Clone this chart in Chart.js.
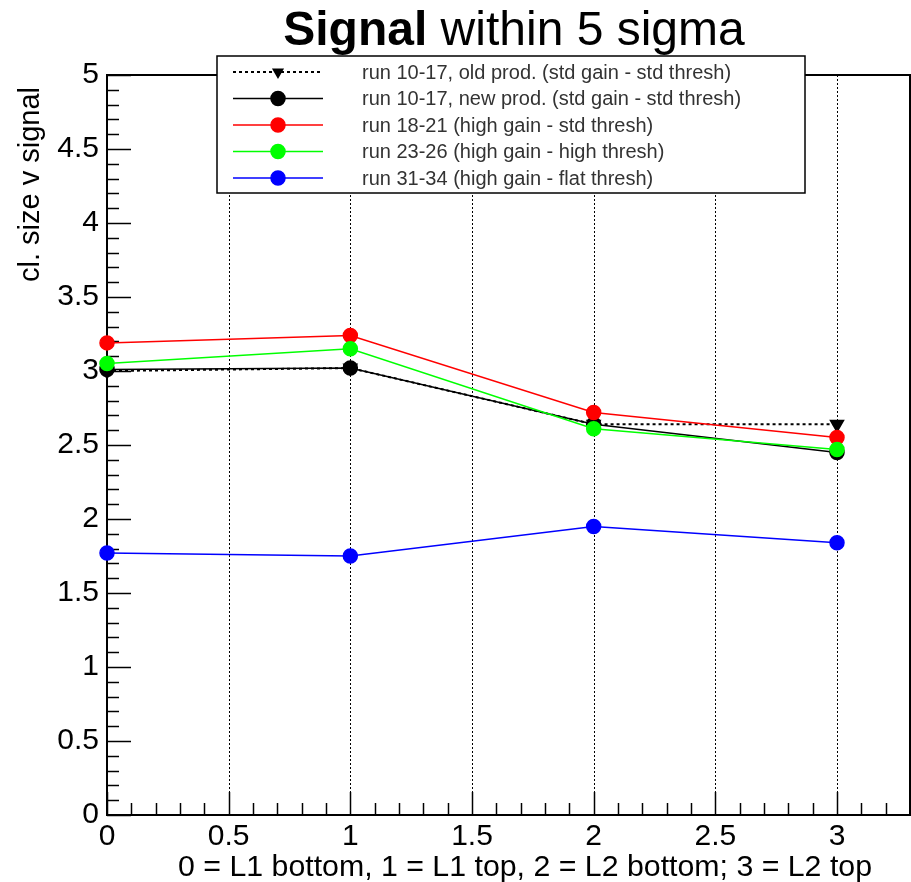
<!DOCTYPE html>
<html>
<head>
<meta charset="utf-8">
<script src="https://cdn.jsdelivr.net/npm/chart.js@4.4.1/dist/chart.umd.min.js"></script>
<style>
  html, body { margin: 0; padding: 0; background: #fff; }
  #wrap { width: 911px; height: 882px; }
</style>
</head>
<body>
<div id="wrap"><canvas id="chart" width="911" height="882"></canvas></div>
<script>
// layer position: 0 = L1 bottom, 1 = L1 top, 2 = L2 bottom, 3 = L2 top
const layers = [0, 1, 2, 3];
const oldProd = [3.00, 3.02, 2.64, 2.64];
const newProd = [3.01, 3.02, 2.64, 2.45];
const run1821 = [3.19, 3.24, 2.72, 2.55];
const run2326 = [3.05, 3.15, 2.61, 2.47];
const run3134 = [1.77, 1.75, 1.95, 1.84];

const seriesLabels = [
    'run 10-17, old prod. (std gain - std thresh)',
    'run 10-17, new prod. (std gain - std thresh)',
    'run 18-21 (high gain - std thresh)',
    'run 23-26 (high gain - high thresh)',
    'run 31-34 (high gain - flat thresh)'
];
const xTicks = [0, 0.5, 1, 1.5, 2, 2.5, 3];
const yTicks = [0, 0.5, 1, 1.5, 2, 2.5, 3, 3.5, 4, 4.5, 5];

const FONT = '"Liberation Sans", Arial, Helvetica, sans-serif';

const toPoints = vals => vals.map((v, i) => ({ x: layers[i], y: v }));

const makeSet = (label, vals, color, extra) => Object.assign({
    label: label,
    data: toPoints(vals),
    borderColor: color,
    backgroundColor: color,
    pointBackgroundColor: color,
    pointBorderColor: color,
    borderWidth: 1.5,
    pointRadius: 7,
    pointStyle: 'circle',
    tension: 0,
    clip: false
}, extra);

// ROOT style frame, ticks, grid, titles and legend
const rootStyle = {
    id: 'rootStyle',
    beforeDatasetsDraw(chart) {
        const ctx = chart.ctx;
        const a = chart.chartArea;
        const xs = chart.scales.x, ys = chart.scales.y;
        ctx.save();
        // dotted vertical grid
        ctx.strokeStyle = '#000';
        ctx.lineWidth = 1;
        ctx.setLineDash([2, 2]);
        xTicks.forEach(v => {
            const px = Math.round(xs.getPixelForValue(v)) + 0.5;
            ctx.beginPath();
            ctx.moveTo(px, a.top);
            ctx.lineTo(px, a.bottom);
            ctx.stroke();
        });
        ctx.setLineDash([]);
        // ticks
        ctx.lineWidth = 1.5;
        for (let i = 0; i <= 33; i++) {
            const v = i / 10;
            const px = Math.round(xs.getPixelForValue(v)) + 0.5;
            const len = (i % 5 === 0) ? 23 : 12;
            ctx.beginPath();
            ctx.moveTo(px, a.bottom);
            ctx.lineTo(px, a.bottom - len);
            ctx.stroke();
        }
        for (let i = 0; i <= 50; i++) {
            const v = i / 10;
            const py = Math.round(ys.getPixelForValue(v)) + 0.5;
            const len = (i % 5 === 0) ? 24 : 12;
            ctx.beginPath();
            ctx.moveTo(a.left, py);
            ctx.lineTo(a.left + len, py);
            ctx.stroke();
        }
        // frame
        ctx.lineWidth = 2;
        ctx.strokeRect(a.left, a.top, a.right - a.left, a.bottom - a.top);
        ctx.restore();
    },
    afterDraw(chart) {
        const ctx = chart.ctx;
        ctx.save();
        ctx.fillStyle = '#000';
        // title: bold "Signal" + regular rest
        ctx.textBaseline = 'alphabetic';
        ctx.font = 'bold 48px ' + FONT;
        const w1 = ctx.measureText('Signal').width;
        ctx.font = '48px ' + FONT;
        const w2 = ctx.measureText(' within 5 sigma').width;
        const tx = 514 - (w1 + w2) / 2;
        ctx.font = 'bold 48px ' + FONT;
        ctx.fillText('Signal', tx, 45);
        ctx.font = '48px ' + FONT;
        ctx.fillText(' within 5 sigma', tx + w1, 45);

        // axis titles
        ctx.font = '30.3px ' + FONT;
        ctx.textAlign = 'right';
        ctx.fillText('0 = L1 bottom, 1 = L1 top, 2 = L2 bottom; 3 = L2 top', 872, 876);
        ctx.font = '29px ' + FONT;
        ctx.translate(39, 87);
        ctx.rotate(-Math.PI / 2);
        ctx.fillText('cl. size v signal', 0, 0);
        ctx.restore();

        // legend box
        ctx.save();
        const bx = 217, by = 56, bw = 588, bh = 137;
        ctx.fillStyle = '#fff';
        ctx.fillRect(bx, by, bw, bh);
        ctx.strokeStyle = '#000';
        ctx.lineWidth = 1.5;
        ctx.strokeRect(bx, by, bw, bh);
        ctx.font = '20px ' + FONT;
        ctx.textBaseline = 'middle';
        ctx.textAlign = 'left';
        const rows = [72, 98.5, 125, 151.5, 178];
        chart.data.datasets.forEach((ds, i) => {
            const y = rows[i];
            ctx.strokeStyle = ds.borderColor;
            ctx.lineWidth = ds.borderWidth;
            ctx.setLineDash(ds.borderDash || []);
            ctx.beginPath();
            ctx.moveTo(233, y);
            ctx.lineTo(323, y);
            ctx.stroke();
            ctx.setLineDash([]);
            ctx.fillStyle = ds.pointBackgroundColor;
            ctx.strokeStyle = ds.pointBorderColor;
            Chart.helpers.drawPoint(ctx, {
                pointStyle: ds.pointStyle,
                rotation: ds.pointRotation || 0,
                radius: ds.pointStyle === 'triangle' ? 5 : 7,
                borderWidth: 1
            }, 278, y);
            ctx.fillStyle = '#333';
            ctx.fillText(ds.label, 362, y + 1);
        });
        ctx.restore();
    }
};

new Chart(document.getElementById('chart'), {
    type: 'line',
    data: {
        datasets: [
            makeSet(seriesLabels[0], oldProd, '#000000', {
                borderDash: [3, 3], borderWidth: 2, pointStyle: 'triangle',
                pointRotation: 180, pointRadius: 7, order: 5
            }),
            makeSet(seriesLabels[1], newProd, '#000000', { order: 4 }),
            makeSet(seriesLabels[2], run1821, '#ff0000', { order: 3 }),
            makeSet(seriesLabels[3], run2326, '#00ff00', { order: 2 }),
            makeSet(seriesLabels[4], run3134, '#0000ff', { order: 1 })
        ]
    },
    plugins: [rootStyle],
    options: {
        responsive: false,
        animation: false,
        devicePixelRatio: 1,
        layout: { autoPadding: false, padding: { top: 75, right: 1, left: 0, bottom: 0 } },
        plugins: {
            legend: { display: false },
            title: { display: false },
            tooltip: { enabled: false }
        },
        scales: {
            x: {
                type: 'linear',
                min: 0,
                max: 3.3,
                afterBuildTicks: s => { s.ticks = xTicks.map(v => ({ value: v })); },
                afterFit: s => { s.height = 67; },
                grid: { display: false, drawTicks: false, tickLength: 0 },
                border: { display: false },
                ticks: {
                    color: '#000',
                    padding: 4,
                    maxRotation: 0,
                    autoSkip: false,
                    font: { family: FONT, size: 30 },
                    callback: v => String(v)
                }
            },
            y: {
                type: 'linear',
                min: 0,
                max: 5,
                afterBuildTicks: s => { s.ticks = yTicks.map(v => ({ value: v })); },
                afterFit: s => { s.width = 107; },
                grid: { display: false, drawTicks: false, tickLength: 0 },
                border: { display: false },
                ticks: {
                    color: '#000',
                    padding: 8,
                    autoSkip: false,
                    font: { family: FONT, size: 30 },
                    callback: v => String(v)
                }
            }
        }
    }
});
</script>
</body>
</html>
